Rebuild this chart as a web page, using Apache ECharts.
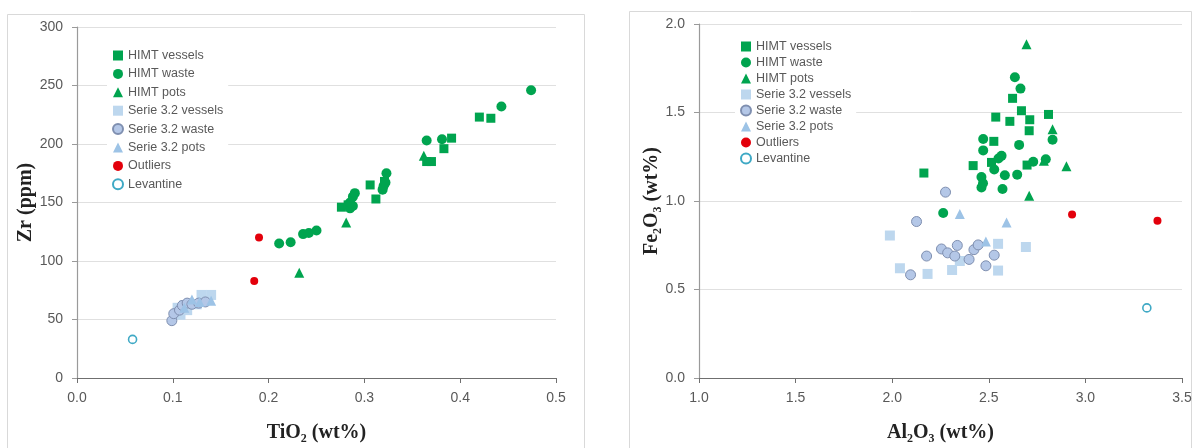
<!DOCTYPE html>
<html><head><meta charset="utf-8">
<script src="https://cdn.jsdelivr.net/npm/echarts@6/dist/echarts.min.js"></script>
<style>html,body{margin:0;padding:0;background:#fff}#c{width:1195px;height:448px}</style>
</head><body><div id="c"></div>
<script>
// ---- Left chart: TiO2 (wt%) vs Zr (ppm)
const tiZrHimtVessels = [[0.276,146],[0.283,148],[0.306,165],[0.312,153],[0.321,168],[0.365,185],[0.370,185],[0.383,196],[0.391,205],[0.420,223],[0.432,222]];
const tiZrHimtWaste = [[0.211,115],[0.223,116],[0.236,123],[0.242,124],[0.250,126],[0.285,145],[0.288,147],[0.288,155],[0.290,158],[0.285,150],[0.319,161],[0.320,164],[0.322,167],[0.323,175],[0.365,203],[0.381,204],[0.443,232],[0.474,246]];
const tiZrHimtPots = [[0.232,90],[0.281,133],[0.362,190]];
const tiZrSerieVessels = [[0.105,60],[0.108,54],[0.115,58],[0.130,71],[0.140,71],[0.125,63],[0.112,62]];
const tiZrSerieWaste = [[0.099,49],[0.101,55],[0.107,58],[0.110,62],[0.115,64],[0.120,63],[0.127,64],[0.134,65]];
const tiZrSeriePots = [[0.112,60],[0.120,67],[0.140,66],[0.128,65]];
const tiZrOutliers = [[0.190,120],[0.185,83]];
const tiZrLevantine = [[0.058,33]];
// ---- Right chart: Al2O3 (wt%) vs Fe2O3 (wt%)
const alFeHimtVessels = [[2.164,1.158],[2.623,1.58],[2.536,1.474],[2.609,1.45],[2.669,1.51],[2.712,1.459],[2.809,1.489],[2.709,1.397],[2.526,1.337],[2.419,1.2],[2.698,1.203],[2.514,1.218]];
const alFeHimtWaste = [[2.635,1.699],[2.664,1.635],[2.471,1.35],[2.471,1.286],[2.657,1.317],[2.83,1.346],[2.55,1.24],[2.566,1.255],[2.528,1.178],[2.583,1.145],[2.647,1.149],[2.462,1.136],[2.462,1.076],[2.571,1.068],[2.73,1.222],[2.795,1.236],[2.264,0.932],[2.47,1.10]];
const alFeHimtPots = [[2.695,1.885],[2.83,1.405],[2.902,1.196],[2.709,1.03],[2.785,1.227]];
const alFeSerieVessels = [[1.988,0.805],[2.04,0.62],[2.183,0.588],[2.31,0.61],[2.35,0.661],[2.548,0.758],[2.692,0.74],[2.548,0.607]];
const alFeSerieWaste = [[2.276,1.05],[2.126,0.884],[2.255,0.729],[2.287,0.707],[2.337,0.749],[2.324,0.689],[2.398,0.67],[2.423,0.725],[2.445,0.752],[2.528,0.694],[2.485,0.634],[2.178,0.689],[2.095,0.583]];
const alFeSeriePots = [[2.35,0.926],[2.592,0.879],[2.485,0.771]];
const alFeOutliers = [[2.931,0.924],[3.373,0.889]];
const alFeLevantine = [[3.318,0.396]];

const seriesNames = ['HIMT vessels','HIMT waste','HIMT pots','Serie 3.2 vessels','Serie 3.2 waste','Serie 3.2 pots','Outliers','Levantine'];

const GREEN = '#00a44f';
const styles = [
  {symbol:'rect', symbolSize:9, itemStyle:{color:GREEN, opacity:1}},
  {symbol:'circle', symbolSize:10, itemStyle:{color:GREEN, opacity:1}},
  {symbol:'triangle', symbolSize:10, itemStyle:{color:GREEN, opacity:1}},
  {symbol:'rect', symbolSize:10, itemStyle:{color:'#bdd7ee', opacity:1}},
  {symbol:'circle', symbolSize:10, itemStyle:{color:'#b4c7e7', borderColor:'#7f8fb0', borderWidth:1, opacity:1}},
  {symbol:'triangle', symbolSize:10, itemStyle:{color:'#9dc3e6', opacity:1}},
  {symbol:'circle', symbolSize:8, itemStyle:{color:'#e3000b', opacity:1}},
  {symbol:'circle', symbolSize:8, itemStyle:{color:'#ffffff', borderColor:'#3fa9c5', borderWidth:1.6, opacity:1}}
];
const leftData = [tiZrHimtVessels,tiZrHimtWaste,tiZrHimtPots,tiZrSerieVessels,tiZrSerieWaste,tiZrSeriePots,tiZrOutliers,tiZrLevantine];
const rightData = [alFeHimtVessels,alFeHimtWaste,alFeHimtPots,alFeSerieVessels,alFeSerieWaste,alFeSeriePots,alFeOutliers,alFeLevantine];

const series = [];
leftData.forEach((d,i)=>series.push(Object.assign({type:'scatter', name:seriesNames[i], xAxisIndex:0, yAxisIndex:0, data:d, z:2}, JSON.parse(JSON.stringify(styles[i])))));
rightData.forEach((d,i)=>series.push(Object.assign({type:'scatter', name:seriesNames[i], xAxisIndex:1, yAxisIndex:1, data:d, z:2}, JSON.parse(JSON.stringify(styles[i])))));

const tickFont = {color:'#595959', fontSize:14, fontFamily:'Liberation Sans, Arial, sans-serif'};
const nameFont = {color:'#222', fontSize:20, fontWeight:'bold', fontFamily:'Liberation Serif, DejaVu Serif, serif'};
const legendText = {color:'#595959', fontSize:12.5, fontFamily:'Liberation Sans, Arial, sans-serif', lineHeight:12};

function xAxis(idx,min,max,interval,name,gap,fmt){
  return {gridIndex:idx, type:'value', min, max, interval, name, nameLocation:'middle', nameGap:gap, nameTextStyle:nameFont,
    axisLine:{show:true, onZero:false, lineStyle:{color:'#6f6f6f', width:1.2}},
    axisTick:{show:true, length:5, lineStyle:{color:'#6f6f6f'}},
    axisLabel:Object.assign({margin:13, formatter:fmt}, tickFont),
    splitLine:{show:false}};
}
function yAxis(idx,min,max,interval,name,gap,fmt){
  return {gridIndex:idx, type:'value', min, max, interval, name, nameLocation:'middle', nameGap:gap, nameTextStyle:nameFont,
    axisLine:{show:true, onZero:false, lineStyle:{color:'#9a9a9a', width:1.2}},
    axisTick:{show:true, length:5, lineStyle:{color:'#9a9a9a'}},
    axisLabel:Object.assign({margin:14, formatter:fmt}, tickFont),
    splitLine:{show:true, lineStyle:{color:'#e0e0e0', width:1}}};
}

const chart = echarts.init(document.getElementById('c'));
chart.setOption({
  animation:false,
  backgroundColor:'#ffffff',
  graphic:[
    {type:'rect', shape:{x:7.5, y:14.5, width:577, height:450}, style:{fill:'none', stroke:'#d9d9d9', lineWidth:1}, z:-1},
    {type:'rect', shape:{x:629.5, y:11.5, width:562, height:450}, style:{fill:'none', stroke:'#d9d9d9', lineWidth:1}, z:-1}
  ],
  grid:[
    {left:77, top:27, width:479, height:361},
    {left:699, top:24, width:483, height:365}
  ],
  xAxis:[
    xAxis(0,0,0.5,0.1,'TiO\u2082 (wt%)',45,v=>v.toFixed(1)),
    xAxis(1,1.0,3.5,0.5,'Al\u2082O\u2083 (wt%)',45,v=>v.toFixed(1))
  ],
  yAxis:[
    yAxis(0,0,300,50,'Zr (ppm)',38,v=>String(v)),
    yAxis(1,0,2.0,0.5,'Fe\u2082O\u2083 (wt%)',35,v=>v.toFixed(1))
  ],
  legend:[
    {orient:'vertical', left:107, top:45, itemWidth:10, itemHeight:10, itemGap:5.4, data:seriesNames, textStyle:legendText, backgroundColor:'#ffffff', padding:[4,5,4,5], selectedMode:false},
    {orient:'vertical', left:735, top:36, itemWidth:10, itemHeight:10, itemGap:3, data:seriesNames, textStyle:legendText, backgroundColor:'#ffffff', padding:[4,5,4,5], selectedMode:false}
  ],
  series
});
</script></body></html>
